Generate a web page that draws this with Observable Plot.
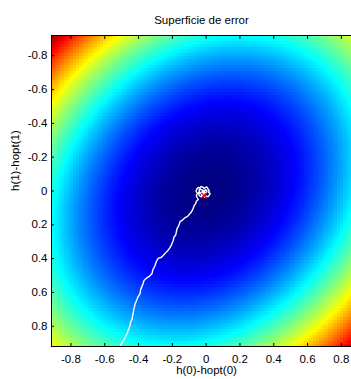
<!DOCTYPE html>
<html><head><meta charset="utf-8">
<script src="https://cdn.jsdelivr.net/npm/d3@7"></script>
<script src="https://cdn.jsdelivr.net/npm/@observablehq/plot@0.6"></script>
<style>
body{margin:0;background:#fff}
svg{display:block}
</style>
</head><body><div id="chart"></div>
<script>
const title = "Superficie de error";
const xLabel = "h(0)-hopt(0)";
const yLabel = "h(1)-hopt(1)";
const xDomain = [-0.915, 0.86];
const yDomain = [-0.92, 0.92];
const xTicks = [-0.8, -0.6, -0.4, -0.2, 0, 0.2, 0.4, 0.6, 0.8];
const yTicks = [-0.8, -0.6, -0.4, -0.2, 0, 0.2, 0.4, 0.6, 0.8];
// error surface J - Jmin = [dx dy] R [dx dy]'
const R = [[1.0, 0.22], [0.22, 1.0]];
const colorMax = 2.1;
// trajectory of the adaptive filter weights
const pathX = [-0.521,-0.509,-0.497,-0.486,-0.478,-0.467,-0.462,-0.450,-0.447,-0.438,-0.436,-0.432,-0.428,-0.420,-0.412,-0.405,-0.391,-0.388,-0.373,-0.368,-0.349,-0.338,-0.320,-0.316,-0.302,-0.296,-0.284,-0.268,-0.254,-0.240,-0.225,-0.213,-0.204,-0.195,-0.190,-0.180,-0.176,-0.172,-0.162,-0.154,-0.140,-0.124,-0.110,-0.095,-0.085,-0.077,-0.071,-0.062,-0.059,-0.047,
  -0.053,-0.058,-0.052,-0.060,-0.055,-0.047,-0.035,-0.030,-0.018,-0.012,0.000,0.006,0.012,0.018,0.014,0.024,0.018,0.012,0.000,-0.006,-0.015,-0.024,-0.030,-0.036,-0.042,-0.040,-0.028,-0.018,-0.025,-0.012,0.000,0.005,-0.005,-0.030,-0.042,-0.045,-0.020,-0.008,-0.012];
const pathY = [0.938,0.918,0.896,0.880,0.862,0.843,0.825,0.796,0.775,0.760,0.740,0.725,0.700,0.666,0.650,0.630,0.607,0.585,0.547,0.530,0.512,0.507,0.488,0.468,0.441,0.420,0.399,0.394,0.382,0.366,0.350,0.334,0.316,0.293,0.272,0.260,0.240,0.222,0.205,0.180,0.172,0.157,0.150,0.133,0.120,0.104,0.086,0.075,0.062,0.050,
  0.040,0.027,0.015,0.000,-0.012,-0.021,-0.018,-0.027,-0.022,-0.015,-0.024,-0.021,-0.010,-0.003,0.008,0.015,0.025,0.033,0.030,0.038,0.030,0.027,0.015,0.009,0.000,-0.010,-0.008,-0.003,0.005,0.008,0.009,0.000,-0.008,0.035,0.025,0.010,0.015,0.020,0.027];
const finalX = [-0.012];
const finalY = [0.027];

const path = pathX.map((x, i) => ({x, y: pathY[i]}));
const finals = finalX.map((x, i) => ({x, y: finalY[i]}));

function jet(t) {
  const c = v => Math.max(0, Math.min(1, v));
  const r = c(1.5 - Math.abs(4 * t - 3));
  const g = c(1.5 - Math.abs(4 * t - 2));
  const b = c(1.5 - Math.abs(4 * t - 1));
  return `rgb(${Math.round(r*255)},${Math.round(g*255)},${Math.round(b*255)})`;
}
const fmt = d => d === 0 ? "0" : String(d);
const surface = (x, y) => R[0][0]*x*x + 2*R[0][1]*x*y + R[1][1]*y*y;

const chart = Plot.plot({
  width: 351,
  height: 379,
  marginTop: 35,
  marginBottom: 33,
  marginLeft: 51,
  marginRight: 0,
  style: {fontFamily: "'Liberation Sans', Arial, sans-serif", fontSize: "11.5px", color: "#000", background: "#fff"},
  x: {domain: xDomain},
  y: {domain: yDomain, reverse: true},
  color: {type: "linear", domain: [0, colorMax], interpolate: jet, clamp: true},
  marks: [
    Plot.raster({fill: surface, x1: xDomain[0], x2: xDomain[1], y1: yDomain[0], y2: yDomain[1], pixelSize: 3, imageRendering: "pixelated"}),
    Plot.line(path, {x: "x", y: "y", stroke: "white", strokeWidth: 1.4, clip: true}),
    Plot.dot(finals, {x: "x", y: "y", symbol: "times", stroke: "red", r: 2.5, strokeWidth: 1.3}),
    Plot.ruleY([yDomain[0], yDomain[1]], {stroke: "black"}),
    Plot.ruleX([xDomain[0]], {stroke: "black"}),
    Plot.axisX(xTicks, {anchor: "bottom", tickSize: -3, tickPadding: 11, tickFormat: fmt, label: null, fontSize: 11.5}),
    Plot.axisX(xTicks, {anchor: "top", tickSize: -3, tickFormat: () => "", label: null}),
    Plot.axisY(yTicks, {anchor: "left", tickSize: -3, tickPadding: 7, tickFormat: fmt, label: null, fontSize: 11.5}),
    Plot.text([title], {text: d => d, frameAnchor: "top", dy: -20, fontSize: 11.5}),
    Plot.text([xLabel], {text: d => d, frameAnchor: "bottom", dx: 5, dy: 27, fontSize: 11.5}),
    Plot.text([yLabel], {text: d => d, frameAnchor: "left", rotate: -90, dx: -36, fontSize: 11.5})
  ]
});
document.getElementById("chart").appendChild(chart);
</script>
</body></html>
